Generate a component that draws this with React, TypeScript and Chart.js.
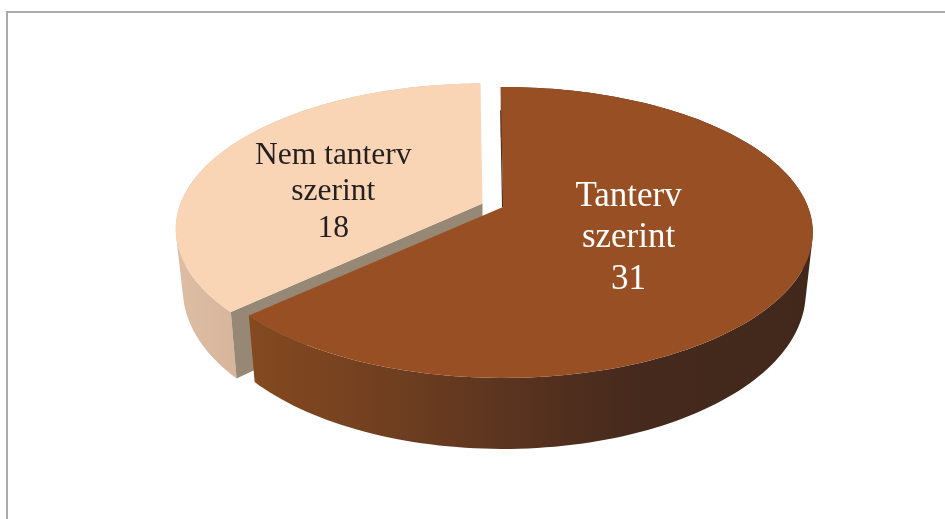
import React, { useEffect, useRef } from "react";
import { Chart, registerables } from "chart.js";

Chart.register(...registerables);

const categories = ["Tanterv szerint", "Nem tanterv szerint"];
const labelLines = [["Tanterv", "szerint"], ["Nem tanterv", "szerint"]];
const values = [31, 18];
const topColors = ["#984F24", "#F9D5B6"];
const textColors = ["#FFFFFF", "#231F20"];

// view of the tilted disc (a perspective projection of each slice)
const view = {
  centers: [{ x: 503, y: 207 }, { x: 482.5, y: 203.5 }],
  radiusX: [305, 302],
  radiusY: 141,
  tilt: 0.175,
  depth: 58.6,
  shrink: 0.977,
};
const labelPlace = [
  { r: 0.435, turn: 0, size: 35, lead: 41.5, drop: 15 },
  { r: 0.52, turn: -9.5, size: 31.5, lead: 36.5, drop: 14 },
];

type Pt = { x: number; y: number };

function project(i: number, theta: number, r: number, lower: boolean): Pt {
  const u = Math.sin(theta) * r;
  const v = -Math.cos(theta) * r;
  const w = 1 - view.tilt * v;
  const c = view.centers[i];
  const dx = (view.radiusX[i] * u) / w;
  const dy = (view.radiusY * v) / w;
  if (!lower) return { x: c.x + dx, y: c.y + dy };
  return { x: c.x + dx * view.shrink, y: c.y + dy + view.depth / w };
}

function rim(i: number, a: number, b: number, lower: boolean) {
  const n = 160;
  const out: Pt[] = [];
  for (let s = 0; s <= n; s++) out.push(project(i, a + ((b - a) * s) / n, 1, lower));
  return out;
}

function tracePoly(ctx: CanvasRenderingContext2D, pts: Pt[]) {
  pts.forEach((p, k) => (k ? ctx.lineTo(p.x, p.y) : ctx.moveTo(p.x, p.y)));
  ctx.closePath();
}

function fillPoly(ctx: CanvasRenderingContext2D, pts: Pt[], fill: string | CanvasGradient) {
  ctx.beginPath();
  tracePoly(ctx, pts);
  ctx.fillStyle = fill;
  ctx.fill();
}

function area(pts: Pt[]) {
  let s = 0;
  pts.forEach((p, k) => {
    const q = pts[(k + 1) % pts.length];
    s += p.x * q.y - q.x * p.y;
  });
  return s;
}

function sideFill(ctx: CanvasRenderingContext2D, i: number) {
  if (i === 0) {
    const g = ctx.createLinearGradient(255, 0, 815, 0);
    g.addColorStop(0, "#84491F");
    g.addColorStop(0.26, "#6E3E20");
    g.addColorStop(0.53, "#53301E");
    g.addColorStop(0.69, "#45291D");
    g.addColorStop(1, "#42281B");
    return g;
  }
  const g = ctx.createLinearGradient(177, 0, 240, 0);
  g.addColorStop(0, "#DDBDA4");
  g.addColorStop(1, "#D6B59B");
  return g;
}

const pie3d = {
  id: "pie3d",
  beforeDatasetDraw(chart: any) {
    const ctx: CanvasRenderingContext2D = chart.ctx;
    const meta = chart.getDatasetMeta(0);
    const colors = chart.data.datasets[0].backgroundColor as string[];
    ctx.save();
    for (const i of [1, 0]) {
      const arc = meta.data[i];
      const a = arc.startAngle + Math.PI / 2;
      const b = arc.endAngle + Math.PI / 2;
      const top = rim(i, a, b, false);
      const low = rim(i, a, b, true);
      const apex = project(i, 0, 0, false);
      const apexLow = project(i, 0, 0, true);
      // outer wall: one path of equally wound steps, so the silhouette is closed and seamless
      ctx.beginPath();
      for (let s = 0; s < top.length - 1; s++) {
        const quad = [top[s], top[s + 1], low[s + 1], low[s]];
        tracePoly(ctx, area(quad) < 0 ? quad.reverse() : quad);
      }
      ctx.fillStyle = sideFill(ctx, i);
      ctx.fill("nonzero");
      // cut wall of the slice's first edge
      if (i === 1) fillPoly(ctx, [apex, apexLow, low[0], top[0]], "#978876");
      else {
        ctx.beginPath();
        const p0 = project(i, a, 0.78, false);
        ctx.moveTo(p0.x - 0.4, p0.y);
        ctx.lineTo(apex.x - 0.4, apex.y);
        ctx.strokeStyle = "#4A2D1E";
        ctx.lineWidth = 1.2;
        ctx.stroke();
      }
      // top face
      fillPoly(ctx, [apex, ...top], colors[i]);
    }
    ctx.restore();
    return false;
  },
  afterDatasetsDraw(chart: any) {
    const ctx: CanvasRenderingContext2D = chart.ctx;
    const meta = chart.getDatasetMeta(0);
    ctx.save();
    ctx.textAlign = "center";
    ctx.textBaseline = "alphabetic";
    meta.data.forEach((arc: any, i: number) => {
      const place = labelPlace[i];
      const mid = (arc.startAngle + arc.endAngle) / 2 + Math.PI / 2 + (place.turn * Math.PI) / 180;
      const p = project(i, mid, place.r, false);
      const lines = [...labelLines[i], String(chart.data.datasets[0].data[i])];
      ctx.font = `${place.size}px "Liberation Serif"`;
      ctx.fillStyle = textColors[i];
      lines.forEach((t, k) => ctx.fillText(t, p.x, p.y + place.drop + (k - 1) * place.lead));
    });
    ctx.restore();
  },
};

export default function App() {
  const ref = useRef<HTMLCanvasElement>(null);
  useEffect(() => {
    const chart = new Chart(ref.current!, {
      type: "pie",
      data: {
        labels: categories,
        datasets: [{ data: values, backgroundColor: topColors, borderWidth: 0 }],
      },
      options: {
        responsive: false,
        animation: false,
        rotation: -0.5,
        plugins: { legend: { display: false }, tooltip: { enabled: false } },
      },
      plugins: [pie3d],
    } as any);
    return () => chart.destroy();
  }, []);
  return (
    <div style={{ position: "absolute", left: 0, top: 0, width: 945, height: 519, overflow: "hidden", background: "#fff" }}>
      <div
        style={{
          position: "absolute",
          left: 6,
          top: 11,
          width: 939,
          height: 508,
          boxSizing: "border-box",
          borderTop: "2px solid #ABABAB",
          borderLeft: "2px solid #ABABAB",
        }}
      />
      <canvas ref={ref} width={945} height={519} style={{ position: "absolute", left: 0, top: 0, display: "block" }} />
    </div>
  );
}
